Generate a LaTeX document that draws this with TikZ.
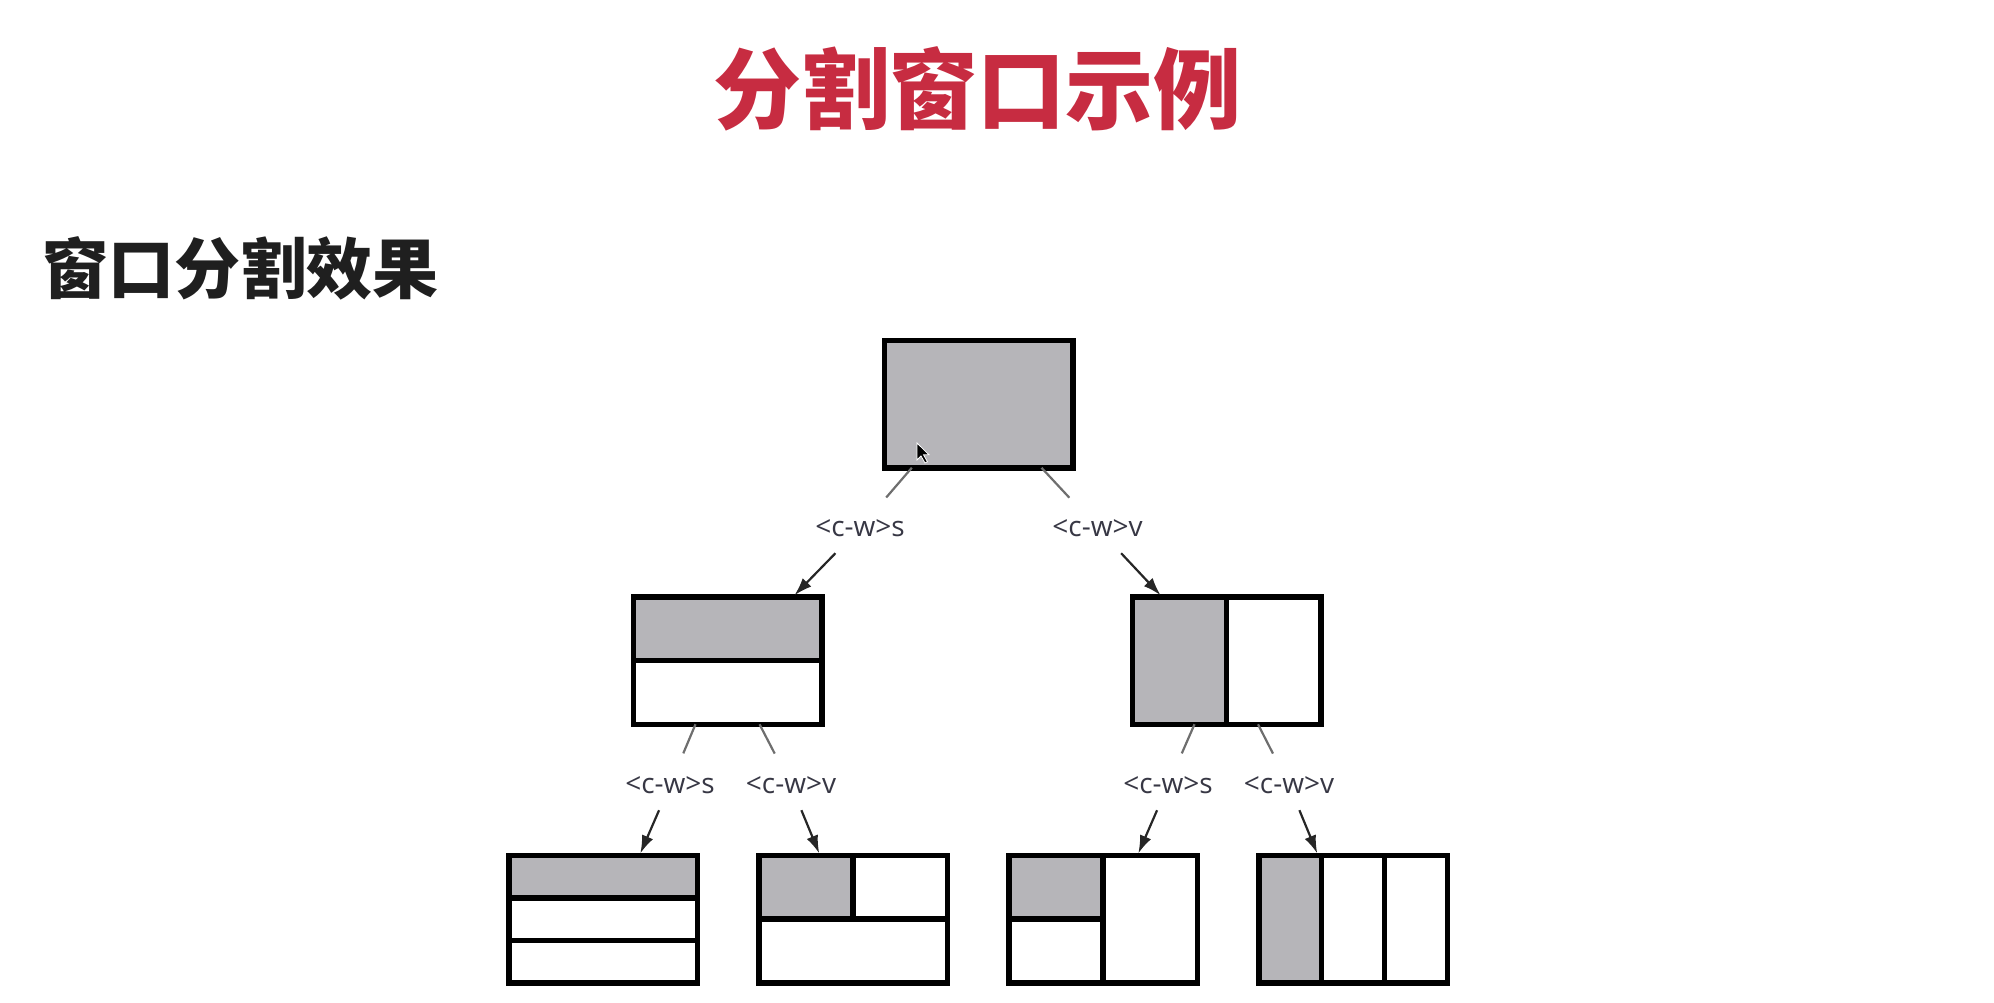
\documentclass[tikz,border=0pt]{standalone}
\usepackage{fontspec}
\usepackage{xcolor}
\usepackage{tikz}
\usetikzlibrary{positioning,calc,arrows.meta,backgrounds}
\newfontfamily\titlefont{Noto Sans CJK SC Black}
\newfontfamily\keyfont{Open Sans}
\definecolor{titlered}{RGB}{199,44,65}
\definecolor{panegray}{RGB}{182,181,185}
\definecolor{keygray}{RGB}{55,55,68}
\definecolor{stubgray}{RGB}{110,110,110}

\begin{document}
\begin{tikzpicture}[x=1pt,y=-1pt,
    win/.style={draw, line width=5.5pt, minimum width=188.5pt, minimum height=127.5pt, inner sep=0pt, outer sep=0pt},
    key/.style={font=\keyfont\fontsize{28}{30}\selectfont, text=keygray, minimum height=50pt, inner sep=0pt},
    stub/.style={draw=stubgray, line width=2.2pt, shorten >=7pt},
    split/.style={-{Latex[length=18pt,width=12pt]}, line width=2.2pt, draw=black!85, shorten >=2pt},
    divider/.style={line width=5.5pt}]
        \useasboundingbox (0,0) rectangle (1994,1002);

        % headings
        \node[font=\titlefont\fontsize{88}{100}\selectfont, text=titlered, inner sep=0pt] (title) at (977,89) {分割窗口示例};
        \node[font=\titlefont\fontsize{66}{72}\selectfont, text=black!88, anchor=west, inner sep=0pt] (sub) at (42,268) {窗口分割效果};

        % windows
        \node[win] (top) at (978.5,404) {};
        \node[win] (b1) at (727.5,660.5) {};
        \node[win] (b2) at (1226.5,660.5) {};
        \node[win] (A) at (603,919) {};
        \node[win] (B) at (853,919) {};
        \node[win] (C) at (1103,919) {};
        \node[win] (D) at (1353,919) {};

        % active panes
        \begin{scope}[on background layer]
            \fill[panegray] (top.north west) rectangle (top.south east);
            \fill[panegray] (b1.north west) rectangle (b1.east);
            \fill[panegray] (b2.north west) rectangle (b2.south);
            \fill[panegray] (A.north west) rectangle ($(A.north east)!1/3!(A.south east)$);
            \fill[panegray] (B.north west) rectangle (B.center);
            \fill[panegray] (C.north west) rectangle (C.center);
            \fill[panegray] (D.north west) rectangle ($(D.south west)!1/3!(D.south east)$);
        \end{scope}

        % pane borders
        \draw[divider] (b1.west) -- (b1.east);
        \draw[divider] (b2.north) -- (b2.south);
        \foreach \f in {1/3, 2/3}
            \draw[divider] ($(A.north west)!\f!(A.south west)$) -- ($(A.north east)!\f!(A.south east)$);
        \draw[divider] (B.west) -- (B.east);
        \draw[divider] (B.north) -- (B.center);
        \draw[divider] (C.north) -- (C.south);
        \draw[divider] (C.west) -- (C.center);
        \foreach \f in {1/3, 2/3}
            \draw[divider] ($(D.north west)!\f!(D.north east)$) -- ($(D.south west)!\f!(D.south east)$);

        % mouse pointer
        \fill[black, draw=white, line width=0.8pt] (917,443) -- ++(0,17) -- ++(4,-4) -- ++(4,7) -- ++(2.5,-1.2) -- ++(-4,-7) -- ++(5.5,0) -- cycle;

        % first split
        \node[key] (ks) at (860,528) {<c-w>s};
        \node[key] (kv) at (1097.5,528) {<c-w>v};
        \draw[stub] ($(top.south)+(-66.7,0)$) -- (ks);
        \draw[stub] ($(top.south)+(63,0)$) -- (kv);
        \draw[split] (ks) -- ($(b1.north)+(65.5,0)$);
        \draw[split] (kv) -- ($(b2.north)+(-64.5,0)$);

        % second split
        \node[key] (b1s) at (670,785) {<c-w>s};
        \node[key] (b1v) at (791,785) {<c-w>v};
        \node[key] (b2s) at (1168,785) {<c-w>s};
        \node[key] (b2v) at (1289,785) {<c-w>v};
        \draw[stub] ($(b1.south)+(-32,0)$) -- (b1s);
        \draw[stub] ($(b1.south)+(32,0)$) -- (b1v);
        \draw[stub] ($(b2.south)+(-32,0)$) -- (b2s);
        \draw[stub] ($(b2.south)+(31.5,0)$) -- (b2v);
        \draw[split] (b1s) -- ($(A.north)+(36.5,0)$);
        \draw[split] (b1v) -- ($(B.north)+(-33,0)$);
        \draw[split] (b2s) -- ($(C.north)+(34.5,0)$);
        \draw[split] (b2v) -- ($(D.north)+(-35,0)$);
    \end{tikzpicture}
\end{document}
